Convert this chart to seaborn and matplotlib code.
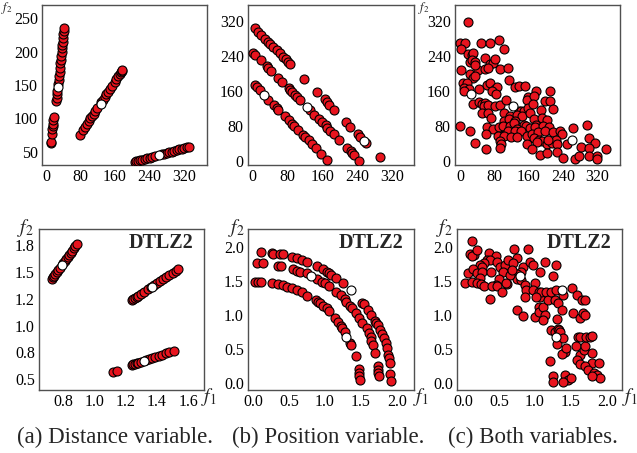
import numpy as np
import pandas as pd
import seaborn as sns
import matplotlib.pyplot as plt
from matplotlib.ticker import FormatStrFormatter

# ---------------- data ----------------
# (a) distance variable, top row
a_top_x = [11, 12, 13, 14, 15, 15.5, 16, 17,
           23, 24, 25, 26, 28, 29, 30, 31, 32, 33, 34, 35, 36, 37, 37.5, 38, 39, 40, 41, 42,
           77.5, 85.3, 90.1, 95, 98.9, 102.8, 106.7, 110.6, 114.5, 118.4, 128.1, 132, 135.9, 139.8,
           143.7, 148.6, 153.4, 159.3, 163.2, 168, 170.9, 173.9, 175.8, 176.8,
           206, 210, 214, 218, 223.5, 229.4, 235.2, 241, 246.9, 252.7, 268.3, 274.1, 280, 285.8,
           291.7, 297.5, 303.3, 309.2, 315, 320.9, 326.7, 332.5]
a_top_y = [63, 65, 76, 84, 88, 92, 97, 102,
           126, 131, 136, 141, 152, 158, 163, 170, 176, 183, 188, 194, 199, 205, 210, 215, 221, 226, 231, 236,
           75, 83, 87, 92, 96, 100, 103.5, 107, 111, 115, 124, 128, 132, 136,
           140, 144, 149, 155, 159, 163, 166, 169, 171, 172,
           34.6, 35.4, 36.1, 36.8, 37.8, 38.9, 39.9, 41, 42, 43.1, 45.9, 47, 48, 49.1,
           50.1, 51.2, 52.2, 53.3, 54.3, 55.4, 56.4, 57.5]
a_top_ref_x = [27, 128, 262]
a_top_ref_y = [147, 121, 45]

# (b) position variable, top row
b_top_x = [4.6, 12.3, 20, 27.6, 35.3, 39, 46.8, 54.5, 62, 69.8, 76, 81.4, 85,
           117.4, 146.6, 165.8, 169.6, 175.7, 187.3, 214, 223, 241, 246, 259, 292,
           0, 5, 18, 32, 36, 42, 59, 67, 82, 86, 90, 98, 102, 109, 132, 140, 152, 159, 167, 171,
           178, 186, 198, 217, 225, 228, 232, 244,
           5, 9, 17, 36, 48, 55, 59, 75, 82, 90, 94, 103, 115, 121, 128, 136, 146, 157, 171]
b_top_y = [302.7, 295, 287.5, 277.6, 272, 268, 260.8, 253, 245.6, 238, 232, 226.6, 220.5,
           187, 158, 140.7, 135.4, 127.8, 116.3, 88, 78, 61, 55.5, 42, 10,
           247, 243, 230, 217, 213, 206, 189, 181, 166, 162, 158, 150, 147, 139, 116, 106, 97, 90, 82, 76,
           68, 61, 48, 29, 24, 19, 14, 0,
           173, 170, 162, 139, 128, 120, 116, 103, 94, 84, 80, 71, 59, 54, 48, 40, 29, 17, 2]
b_top_ref_x = [26, 125, 256]
b_top_ref_y = [151, 124, 46]

# (c) both variables, top row
c_top_x = [18, 0, 12, 2, 48, 70, 90, 102, 18, 27, 31, 22, 27, 35, 59, 69, 76, 82, 2, 22, 41, 59, 66, 94,
           111, 35, 31, 35, 6, 16, 10, 20, 10, 43, 62, 70, 82, 86, 74, 84, 113, 127, 137, 151, 176, 209,
           158, 155, 172, 199, 209, 216, 30, 43, 52, 59, 55, 66, 82, 94, 106, 137, 143, 150, 158, 170,
           51, 66, 72, 102, 117, 133, 145, 164, 188, 102, 113, 129, 150, 172, 176, 191, 203, 0, 62, 77,
           90, 100, 117, 125, 133, 153, 164, 174, 194, 207, 264, 297, 23, 61, 103, 112, 127, 141, 156,
           168, 181, 197, 217, 233, 238, 88, 102, 119, 133, 172, 184, 191, 203, 214, 224, 205, 94, 95,
           92, 155, 180, 227, 250, 301, 314, 34, 61, 168, 186, 202, 225, 241, 267, 277, 283, 301, 301,
           320, 320, 341]
c_top_y = [318, 269, 269, 255, 270, 270, 275, 255, 245, 242, 246, 227, 231, 225, 236, 221, 223, 233, 208,
           199, 207, 210, 212, 210, 212, 220, 189, 193, 177, 178, 167, 164, 159, 164, 174, 178, 164, 169,
           159, 154, 184, 170, 172, 172, 159, 159, 146, 140, 148, 136, 136, 119, 131, 134, 131, 133, 125,
           127, 125, 127, 140, 115, 114, 114, 121, 129, 110, 110, 98, 110, 102, 106, 102, 110, 116, 91,
           95, 92, 83, 95, 83, 98, 93, 81, 78, 72, 78, 81, 81, 86, 73, 81, 76, 77, 81, 78, 76, 83, 68, 61,
           59, 68, 68, 68, 57, 61, 66, 68, 66, 68, 61, 57, 57, 55, 55, 53, 49, 45, 40, 42, 48, 49, 45, 38,
           30, 38, 43, 40, 40, 53, 42, 42, 27, 28, 13, 19, 20, 8, 5, 11, 32, 30, 11, 11, 4, 27]
c_top_ref_x = [25, 123, 260]
c_top_ref_y = [152, 125, 47]

# (a) distance variable, DTLZ2
a_bot_x = [0.728, 0.735, 0.74, 0.75, 0.76, 0.77, 0.78, 0.80, 0.81, 0.82, 0.83, 0.84, 0.85, 0.86,
           0.87, 0.88, 0.89,
           1.24, 1.25, 1.26, 1.27, 1.28, 1.30, 1.32, 1.34, 1.36, 1.38, 1.40, 1.42, 1.44, 1.46, 1.48,
           1.50, 1.52, 1.537,
           1.121, 1.147, 1.239, 1.25, 1.26, 1.27, 1.28, 1.30, 1.33, 1.35, 1.37, 1.39, 1.41, 1.43,
           1.46, 1.48, 1.509]
a_bot_y = [1.437, 1.452, 1.461, 1.481, 1.501, 1.521, 1.541, 1.581, 1.601, 1.621, 1.641, 1.661,
           1.681, 1.701, 1.721, 1.741, 1.762,
           1.240, 1.250, 1.260, 1.270, 1.279, 1.299, 1.318, 1.338, 1.357, 1.377, 1.396, 1.416, 1.435,
           1.455, 1.474, 1.494, 1.513, 1.531,
           0.569, 0.578, 0.631, 0.636, 0.641, 0.646, 0.651, 0.661, 0.676, 0.686, 0.696, 0.706, 0.716,
           0.726, 0.741, 0.751, 0.766]
a_bot_ref_x = [0.792, 1.367, 1.318]
a_bot_ref_y = [1.569, 1.359, 0.669]

# (b) position variable, DTLZ2 (three arcs)
b_bot_x = [0.106, 0.26, 0.28, 0.375, 0.42, 0.537, 0.616, 0.676, 0.745, 0.884, 0.977, 1.03, 1.06,
           1.09, 1.153, 1.255, 1.523, 1.54, 1.60, 1.648, 1.694, 1.718, 1.74, 1.764, 1.80, 1.82,
           1.847, 1.866, 1.88, 1.894, 1.903, 1.912, 1.926,
           0.051, 0.134, 0.352, 0.384, 0.56, 0.606, 0.66, 0.745, 0.884, 0.954, 1.0, 1.06, 1.153,
           1.222, 1.278, 1.30, 1.356, 1.384, 1.44, 1.477, 1.523, 1.58, 1.616, 1.639, 1.648, 1.671,
           1.694, 1.74, 1.74, 1.74, 1.755,
           0.028, 0.074, 0.111, 0.26, 0.352, 0.412, 0.477, 0.537, 0.606, 0.676, 0.755, 0.875, 0.907,
           0.93, 0.977, 1.023, 1.06, 1.139, 1.185, 1.222, 1.245, 1.278, 1.347, 1.37, 1.43, 1.477,
           1.477, 1.477, 1.486]
b_bot_y = [1.927, 1.91, 1.90, 1.89, 1.89, 1.854, 1.83, 1.80, 1.78, 1.717, 1.668, 1.634, 1.61,
           1.585, 1.546, 1.463, 1.18, 1.16, 1.07, 1.0, 0.917, 0.878, 0.854, 0.78, 0.717, 0.659,
           0.585, 0.512, 0.415, 0.366, 0.293, 0.137, 0.039,
           1.756, 1.756, 1.722, 1.717, 1.673, 1.649, 1.634, 1.61, 1.527, 1.488, 1.463, 1.424, 1.341,
           1.293, 1.234, 1.195, 1.132, 1.098, 1.024, 0.951, 0.878, 0.805, 0.741, 0.673, 0.624, 0.561,
           0.449, 0.254, 0.195, 0.156, 0.107,
           1.488, 1.488, 1.488, 1.463, 1.449, 1.439, 1.415, 1.39, 1.366, 1.341, 1.278, 1.22, 1.195,
           1.171, 1.132, 1.098, 1.059, 0.961, 0.902, 0.844, 0.805, 0.756, 0.595, 0.561, 0.40, 0.205,
           0.146, 0.098, 0.049]
b_bot_ref_x = [0.80, 1.37, 1.30]
b_bot_ref_y = [1.571, 1.366, 0.683]

# (c) both variables, DTLZ2
c_bot_x = [0.12, 0.10, 0.15, 0.12, 0.2, 0.366, 0.46, 0.33, 0.38, 0.29, 0.23, 0.27, 0.48, 0.51, 0.58,
           0.55, 0.63, 0.71, 0.75, 0.70, 0.84, 0.91, 0.93, 0.97, 0.81, 0.75, 0.745, 0.81, 0.065,
           0.14, 0.19, 0.26, 0.236, 0.384, 0.495, 0.46, 0.65, 0.676, 0.606, 0.028, 0.12, 0.19, 0.245,
           0.29, 0.41, 0.47, 0.375, 0.537, 0.60, 0.86, 0.88, 0.86, 0.745, 0.84, 1.0, 0.977, 1.05,
           1.07, 1.09, 1.07, 1.14, 1.01, 1.0, 1.05, 1.05, 1.115, 1.14, 1.115, 1.16, 1.185, 1.23, 1.30,
           1.255, 1.278, 1.30, 1.218, 1.278, 1.31, 1.315, 1.338, 1.394, 1.32, 1.37, 1.31, 1.347,
           1.384, 1.417, 1.37, 1.43, 1.208, 1.255, 1.255, 1.417, 1.463, 1.495, 1.39, 1.51, 1.53, 1.58,
           1.625, 1.648, 1.694, 1.67, 1.694, 1.60, 1.63, 1.57, 1.625, 1.58, 1.63, 1.68, 1.694, 1.71,
           1.764, 1.787, 1.80, 1.80, 1.694, 1.74, 1.82, 1.866, 1.894, 1.903, 1.787]
c_bot_y = [2.09, 1.90, 1.88, 1.87, 1.95, 1.91, 1.86, 1.81, 1.80, 1.76, 1.73, 1.71, 1.78, 1.71, 1.73,
           1.63, 1.80, 1.96, 1.83, 1.76, 1.71, 1.96, 1.78, 1.73, 1.63, 1.60, 1.52, 1.51, 1.62,
           1.67, 1.62, 1.63, 1.54, 1.63, 1.52, 1.44, 1.585, 1.66, 1.46, 1.47, 1.49, 1.47, 1.46,
           1.42, 1.42, 1.42, 1.24, 1.34, 1.47, 1.44, 1.36, 1.27, 1.07, 0.98, 1.47, 1.37, 1.34,
           1.27, 1.34, 1.63, 1.77, 1.27, 0.976, 1.12, 1.05, 1.12, 1.0, 0.93, 1.34, 1.22, 1.34, 1.73,
           1.57, 1.22, 1.37, 0.78, 0.756, 0.94, 0.80, 0.78, 1.29, 1.18, 1.07, 0.576, 0.756,
           0.66, 0.46, 0.43, 0.51, 0.33, 0.098, 0.024, 0.12, 0.049, 0.073, 0.024, 1.39, 1.03, 1.29,
           0.95, 1.22, 1.22, 1.03, 1.0, 0.67, 0.67, 0.54, 0.415, 0.34, 0.28, 0.49, 0.54, 0.67,
           0.67, 0.69, 0.44, 0.29, 0.25, 0.195, 0.156, 0.12, 0.30, 0.073, 0.098]
c_bot_ref_x = [0.79, 1.37, 1.30]
c_bot_ref_y = [1.57, 1.366, 0.683]

top_ticks = [0, 80, 160, 240, 320]
a_top_yticks = [50, 100, 150, 200, 250]
a_bot_xticks = [0.8, 1.0, 1.2, 1.4, 1.6]
a_bot_yticks = [0.5, 0.75, 1.0, 1.25, 1.5, 1.75]
bc_bot_ticks = [0.0, 0.5, 1.0, 1.5, 2.0]
captions = ["(a) Distance variable.", "(b) Position variable.", "(c) Both variables."]

# ---------------- style ----------------
sns.set_style("white")
plt.rcParams["font.family"] = ["Liberation Serif", "DejaVu Serif"]
plt.rcParams["mathtext.fontset"] = "stix"

RED = "#e8141e"
SPINE = "#505050"

fig = plt.figure(figsize=(6.37, 4.53), dpi=100)

def panel(rect, xs, ys, rx, ry, xlim, ylim, xticks, yticks, fmt=None, title=None):
    ax = fig.add_axes(rect)
    sns.scatterplot(x=xs, y=ys, ax=ax, color=RED, edgecolor="black", linewidth=0.8,
                    s=42, legend=False, zorder=3)
    sns.scatterplot(x=rx, y=ry, ax=ax, color="white", edgecolor="black", linewidth=0.8,
                    s=42, legend=False, zorder=4)
    ax.set_xlim(*xlim)
    ax.set_ylim(*ylim)
    ax.set_xticks(xticks)
    ax.set_yticks(yticks)
    if fmt:
        ax.xaxis.set_major_formatter(FormatStrFormatter(fmt))
        ax.yaxis.set_major_formatter(FormatStrFormatter(fmt))
    ax.tick_params(direction="in", length=2.5, width=0.8, labelsize=11.5,
                   pad=3, colors=SPINE, labelcolor="black")
    for sp in ax.spines.values():
        sp.set_color(SPINE)
        sp.set_linewidth(1.0)
    ax.set_xlabel("")
    ax.set_ylabel("")
    if title:
        ax.text(0.935, 0.915, title, transform=ax.transAxes, ha="right", va="center",
                fontsize=14.5, fontweight="bold")
    return ax

panel([0.0659, 0.6358, 0.2590, 0.3532], a_top_x, a_top_y, a_top_ref_x, a_top_ref_y,
      (-10, 374), (30, 270), top_ticks, a_top_yticks)
panel([0.3893, 0.6358, 0.2606, 0.3532], b_top_x, b_top_y, b_top_ref_x, b_top_ref_y,
      (-11, 370), (-9, 356), top_ticks, top_ticks)
panel([0.7143, 0.6358, 0.2590, 0.3532], c_top_x, c_top_y, c_top_ref_x, c_top_ref_y,
      (-12, 373), (-9, 356), top_ticks, top_ticks)

panel([0.0612, 0.1391, 0.2590, 0.3554], a_bot_x, a_bot_y, a_bot_ref_x, a_bot_ref_y,
      (0.647, 1.70), (0.397, 1.903), a_bot_xticks, a_bot_yticks, fmt="%.1f", title="DTLZ2")
panel([0.3893, 0.1391, 0.2606, 0.3554], b_bot_x, b_bot_y, b_bot_ref_x, b_bot_ref_y,
      (-0.07, 2.24), (-0.1, 2.26), bc_bot_ticks, bc_bot_ticks, fmt="%.1f", title="DTLZ2")
panel([0.7174, 0.1391, 0.2590, 0.3554], c_bot_x, c_bot_y, c_bot_ref_x, c_bot_ref_y,
      (-0.083, 2.21), (-0.1, 2.26), bc_bot_ticks, bc_bot_ticks, fmt="%.1f", title="DTLZ2")

# axis names
W, H = 637.0, 453.0
for px in [25, 236, 444]:
    fig.text(px / W, 1 - 228 / H, "$f_2$", fontsize=14, ha="center", va="center")
# top-row f2 labels squeezed into the top-left corner
for px in [7, 424]:
    fig.text(px / W, 1.0, "$f_2$", fontsize=9, ha="center", va="top")
for px in [209, 421, 630]:
    fig.text(px / W, 1 - 397 / H, "$f_1$", fontsize=14, ha="center", va="center")

for cx, cap in zip([115, 328, 533], captions):
    fig.text(cx / W, 1 - 437 / H, cap, fontsize=16.5, ha="center", va="center")

plt.savefig("out.png", dpi=100)
